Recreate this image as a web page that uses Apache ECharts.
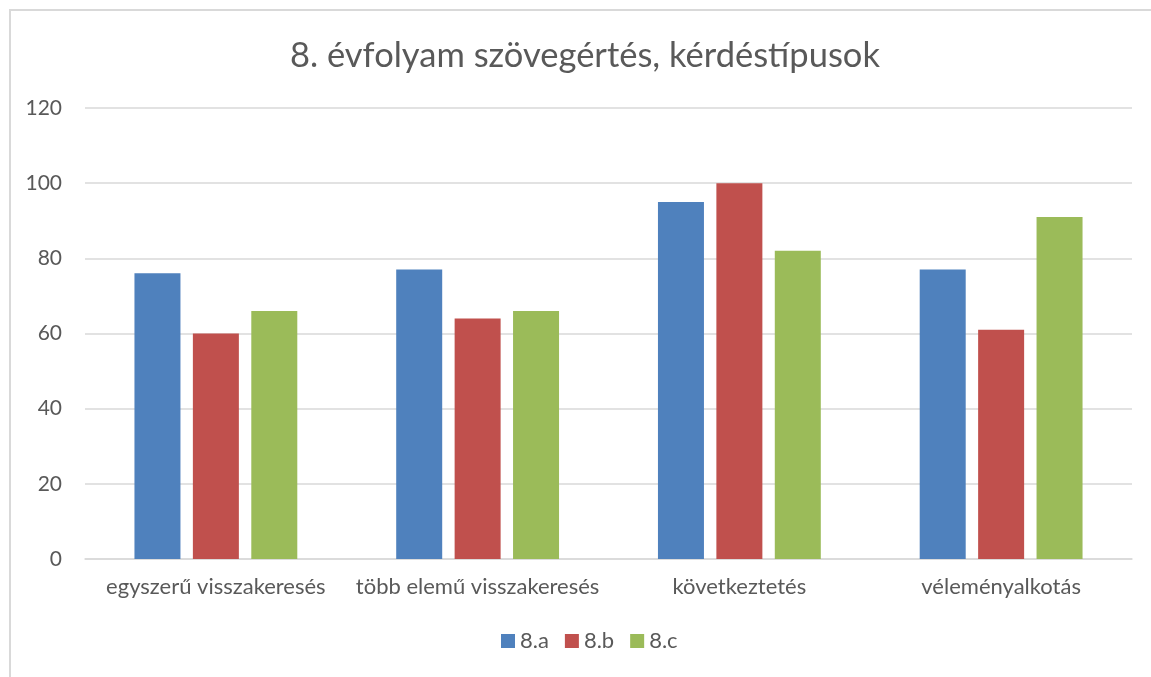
<!DOCTYPE html>
<html>
<head>
<meta charset="utf-8">
<script src="https://cdn.jsdelivr.net/npm/echarts@6/dist/echarts.min.js"></script>
<style>
  html, body { margin: 0; padding: 0; background: #fff; }
  #frame {
    position: absolute; left: 9px; top: 9px; right: 0; bottom: 0;
    border-left: 2px solid #d9d9d9; border-top: 2px solid #d9d9d9;
  }
  #chart { position: absolute; left: 0; top: 0; width: 1151px; height: 677px; }
</style>
</head>
<body>
<div id="frame"></div>
<div id="chart"></div>
<script>
// adatok
var categories = ["egyszerű visszakeresés", "több elemű visszakeresés", "következtetés", "véleményalkotás"];
var classA = [76, 77, 95, 77];
var classB = [60, 64, 100, 61];
var classC = [66, 66, 82, 91];
var seriesNames = ["8.a", "8.b", "8.c"];
var colors = ["#4f81bd", "#c0504d", "#9bbb59"];

var textColor = "#595959";
var fontName = "Lato";

var chart = echarts.init(document.getElementById("chart"));

chart.setOption({
  animation: false,
  color: colors,
  title: {
    text: "8. évfolyam szövegértés, kérdéstípusok",
    left: 285,
    top: 33,
    textStyle: {
      color: textColor,
      fontFamily: fontName,
      fontSize: 34.5,
      fontWeight: "normal",
    },
  },
  legend: {
    bottom: 20,
    left: 496,
    itemWidth: 14,
    itemHeight: 14,
    itemGap: 16,
    icon: "rect",
    data: seriesNames,
    textStyle: { color: textColor, fontFamily: fontName, fontSize: 22 },
  },
  grid: {
    left: 85,
    right: 19,
    top: 108,
    bottom: 118,
  },
  xAxis: {
    type: "category",
    data: categories,
    axisLine: { lineStyle: { color: "#d9d9d9", width: 1.5 } },
    axisTick: { show: false },
    axisLabel: {
      color: textColor,
      fontFamily: fontName,
      fontSize: 22,
      margin: 17,
      interval: 0,
      hideOverlap: false,
    },
  },
  yAxis: {
    type: "value",
    min: 0,
    max: 120,
    interval: 20,
    axisLine: { show: false },
    axisTick: { show: false },
    splitLine: { lineStyle: { color: "#d9d9d9", width: 1.5 } },
    axisLabel: {
      color: textColor,
      fontFamily: fontName,
      fontSize: 21,
      margin: 23,
    },
  },
  series: [
    { name: seriesNames[0], type: "bar", data: classA, barWidth: 46, barGap: "27%" },
    { name: seriesNames[1], type: "bar", data: classB, barWidth: 46, barGap: "27%" },
    { name: seriesNames[2], type: "bar", data: classC, barWidth: 46, barGap: "27%" },
  ],
});
</script>
</body>
</html>
